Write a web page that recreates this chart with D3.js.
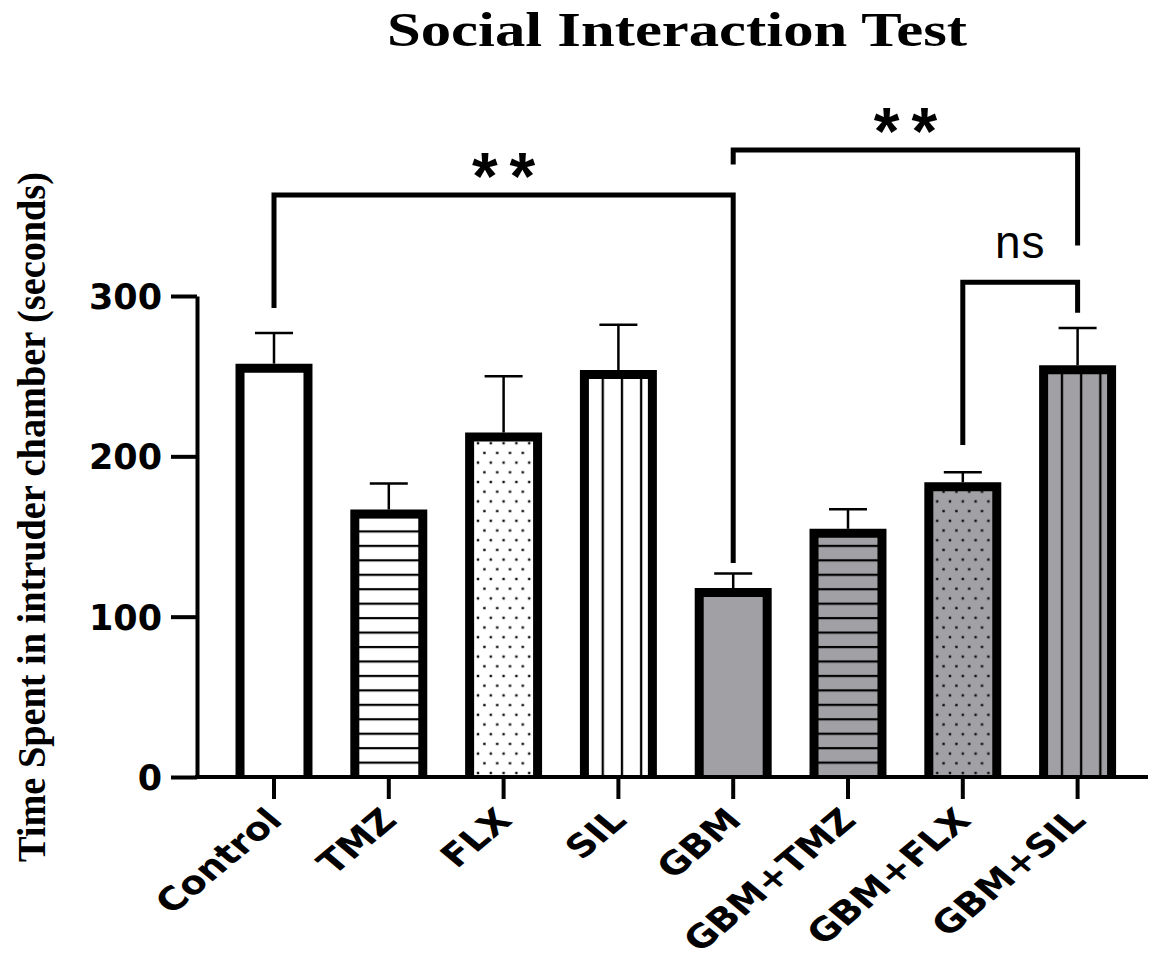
<!DOCTYPE html>
<html>
<head>
<meta charset="utf-8">
<script src="https://cdn.jsdelivr.net/npm/d3@7"></script>
<style>
  html, body { margin: 0; padding: 0; background: #fff; }
  svg { display: block; }
</style>
</head>
<body>
<script>
// ---------------- data ----------------
const categories = ["Control", "TMZ", "FLX", "SIL", "GBM", "GBM+TMZ", "GBM+FLX", "GBM+SIL"];
const means      = [255, 164, 212, 251, 115, 152, 181, 254];
const sems       = [22, 19, 38, 31, 12, 15, 9, 26];
const fillKinds  = ["white", "white", "white", "white", "grey", "grey", "grey", "grey"];
const patterns   = ["none", "hlines", "dots", "vlines", "none", "hlines", "dots", "vlines"];
const yTicks     = [0, 100, 200, 300];
// significance brackets (heights in data units)
const bracketFrom   = ["Control", "GBM", "GBM+FLX"];
const bracketTo     = ["GBM", "GBM+SIL", "GBM+SIL"];
const bracketLevel  = [363, 391, 308.5];
const bracketLeftEnd  = [292.5, 382, 207];
const bracketRightEnd = [133.5, 331.5, 289.5];
const bracketLabel  = ["**", "**", "ns"];

const titleText = "Social Interaction Test";
const yLabelText = "Time Spent in intruder chamber (seconds)";

// ---------------- layout ----------------
const W = 1159, H = 960;
const GREY = "#a0a0a5";
const svg = d3.select("body").append("svg").attr("width", W).attr("height", H);

const y = d3.scaleLinear().domain([0, 300]).range([777, 296]);
const x = d3.scaleBand().domain(categories).range([216.6, 1135]).paddingInner(0.408).paddingOuter(0.204);
const cx = c => x(c) + x.bandwidth() / 2;

// ---------------- patterns ----------------
const defs = svg.append("defs");
categories.forEach((c, i) => {
  const kind = patterns[i];
  if (kind === "none") return;
  const bg = fillKinds[i] === "grey" ? GREY : "#fff";
  if (kind === "hlines") {
    const p = defs.append("pattern").attr("id", "pat" + i)
      .attr("patternUnits", "userSpaceOnUse").attr("width", 200).attr("height", 14.45)
      .attr("patternTransform", `translate(0,${y(0)})`);
    p.append("rect").attr("width", 200).attr("height", 14.45).attr("fill", bg);
    p.append("rect").attr("x", 0).attr("y", -1).attr("width", 200).attr("height", 2.2).attr("fill", "#000");
    p.append("rect").attr("x", 0).attr("y", 13.45).attr("width", 200).attr("height", 2.2).attr("fill", "#000");
  } else if (kind === "vlines") {
    const p = defs.append("pattern").attr("id", "pat" + i)
      .attr("patternUnits", "userSpaceOnUse").attr("width", 19.2).attr("height", 200)
      .attr("patternTransform", `translate(${cx(c) + 3.5},0)`);
    p.append("rect").attr("width", 19.2).attr("height", 200).attr("fill", bg);
    p.append("rect").attr("x", -1.1).attr("y", 0).attr("width", 2.3).attr("height", 200).attr("fill", "#000");
    p.append("rect").attr("x", 18.1).attr("y", 0).attr("width", 2.3).attr("height", 200).attr("fill", "#000");
  } else if (kind === "dots") {
    const p = defs.append("pattern").attr("id", "pat" + i)
      .attr("patternUnits", "userSpaceOnUse").attr("width", 12.8).attr("height", 19.4)
      .attr("patternTransform", `translate(${cx(c)},${y(0) - 4})`);
    p.append("rect").attr("width", 12.8).attr("height", 19.4).attr("fill", bg);
    [[-1.2, -1.2], [11.6, -1.2], [-1.2, 18.2], [11.6, 18.2], [5.2, 8.5]].forEach(([dx, dy]) => {
      p.append("rect").attr("x", dx).attr("y", dy).attr("width", 2.4).attr("height", 2.4).attr("fill", "#111");
    });
  }
});

// ---------------- title ----------------
svg.append("text")
  .attr("x", 677).attr("y", 46)
  .attr("text-anchor", "middle")
  .attr("font-family", "Liberation Serif, Times New Roman, serif")
  .attr("font-weight", "bold").attr("font-size", 49)
  .attr("textLength", 580).attr("lengthAdjust", "spacingAndGlyphs")
  .text(titleText);

// ---------------- y label ----------------
svg.append("text")
  .attr("transform", "translate(45,517) rotate(-90)")
  .attr("text-anchor", "middle")
  .attr("font-family", "Liberation Serif, Times New Roman, serif")
  .attr("font-weight", "bold").attr("font-size", 40)
  .attr("textLength", 690).attr("lengthAdjust", "spacingAndGlyphs")
  .text(yLabelText);

// ---------------- bars ----------------
const data = categories.map((c, i) => ({ c, i, m: means[i], e: sems[i] }));
const gBars = svg.append("g");
gBars.selectAll("rect.fill").data(data).join("rect")
  .attr("class", "fill")
  .attr("x", d => x(d.c)).attr("width", x.bandwidth())
  .attr("y", d => y(d.m)).attr("height", d => y(0) - y(d.m))
  .attr("fill", d => patterns[d.i] === "none" ? (fillKinds[d.i] === "grey" ? GREY : "#fff") : `url(#pat${d.i})`);
gBars.selectAll("path.border").data(data).join("path")
  .attr("class", "border")
  .attr("d", d => `M${x(d.c)},${y(0)}V${y(d.m)}H${x(d.c) + x.bandwidth()}V${y(0)}`)
  .attr("fill", "none").attr("stroke", "#000").attr("stroke-width", 9)
  .attr("stroke-linejoin", "miter").attr("stroke-linecap", "butt");

// error bars (upper only)
const gErr = svg.append("g").attr("stroke", "#000").attr("stroke-width", 2.5);
gErr.selectAll("line.v").data(data).join("line")
  .attr("x1", d => cx(d.c)).attr("x2", d => cx(d.c))
  .attr("y1", d => y(d.m) - 4.5).attr("y2", d => y(d.m + d.e));
gErr.selectAll("line.h").data(data).join("line")
  .attr("x1", d => cx(d.c) - 19).attr("x2", d => cx(d.c) + 19)
  .attr("y1", d => y(d.m + d.e)).attr("y2", d => y(d.m + d.e));

// ---------------- axes ----------------
const yAxis = d3.axisLeft(y).tickValues(yTicks).tickSize(26).tickSizeOuter(0).tickPadding(9);
const gy = svg.append("g").attr("transform", "translate(197,0)").call(yAxis);
gy.select(".domain").attr("stroke-width", 4).attr("stroke", "#000");
gy.selectAll(".tick line").attr("stroke-width", 4).attr("stroke", "#000");
gy.selectAll(".tick text")
  .attr("font-family", "DejaVu Sans, sans-serif").attr("font-weight", "bold")
  .attr("font-size", 35).attr("fill", "#000").attr("dy", "0.36em");

const xAxis = d3.axisBottom(x).tickSize(22).tickSizeOuter(0).tickPadding(0);
const gx = svg.append("g").attr("transform", `translate(0,${y(0)})`).call(xAxis);
gx.select(".domain").remove();
gx.selectAll(".tick line").attr("stroke-width", 4).attr("stroke", "#000");
gx.selectAll(".tick text")
  .attr("font-family", "DejaVu Sans, sans-serif").attr("font-weight", "bold")
  .attr("font-size", 32).attr("fill", "#000")
  .attr("text-anchor", "end")
  .attr("dy", 0)
  .attr("y", 0)
  .attr("transform", "translate(10,45) scale(1.2,1) rotate(-45)");
svg.append("line")
  .attr("x1", 195).attr("x2", 1148)
  .attr("y1", y(0)).attr("y2", y(0))
  .attr("stroke", "#000").attr("stroke-width", 4);

// ---------------- significance brackets ----------------
const gBr = svg.append("g");
bracketFrom.forEach((f, k) => {
  const x1 = cx(f), x2 = cx(bracketTo[k]);
  gBr.append("path")
    .attr("d", `M${x1},${y(bracketLeftEnd[k])}V${y(bracketLevel[k])}H${x2}V${y(bracketRightEnd[k])}`)
    .attr("fill", "none").attr("stroke", "#000").attr("stroke-width", 5)
    .attr("stroke-linejoin", "miter");
  const isNs = bracketLabel[k] === "ns";
  gBr.append("text")
    .attr("x", (x1 + x2) / 2 + (isNs ? 0 : 6))
    .attr("y", y(bracketLevel[k]) + (isNs ? -24 : 4))
    .attr("text-anchor", "middle")
    .attr("font-family", "Liberation Sans, Arial, sans-serif")
    .attr("font-weight", isNs ? "normal" : "bold")
    .attr("font-size", isNs ? 46 : 66)
    .attr("letter-spacing", isNs ? 1 : 12)
    .text(bracketLabel[k]);
});
</script>
</body>
</html>
